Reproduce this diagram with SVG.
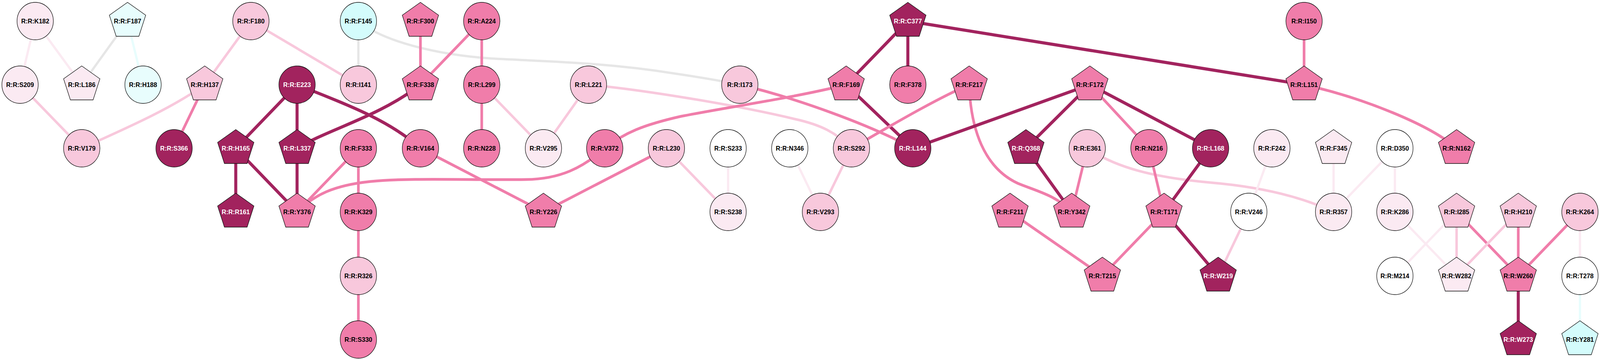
<svg xmlns="http://www.w3.org/2000/svg" xmlns:xlink="http://www.w3.org/1999/xlink" width="4228" height="920" viewBox="0 0 4228 920">
<style>
.e{fill:none;stroke-linecap:butt}
.ed{stroke:#a2235e;stroke-width:8}
.em{stroke:#f07daa;stroke-width:7}
.ep{stroke:#f8c8dc;stroke-width:6.5}
.el{stroke:#fbeaf2;stroke-width:6}
.eg{stroke:#e6e6e6;stroke-width:6}
.ec{stroke:#e8fdfd;stroke-width:6}
.node ellipse,.node use{stroke:#111;stroke-width:1.3}
.d{fill:#a2235e}.m{fill:#f07daa}.p{fill:#f8c8dc}.l{fill:#fbeaf2}.w{fill:#ffffff}.c1{fill:#e8fdfd}.c2{fill:#d4fcfc}
text{font-family:"Liberation Sans",Arial,Helvetica,sans-serif;font-size:16.5px;font-weight:bold;text-anchor:middle;fill:#000}
text.t{fill:#fff}
</style>
<defs>
<polygon id="pent" points="0,-48 48,-15 30,39 -30,39 -48,-15"/>
</defs>
<rect width="4228" height="920" fill="#fff"/>
<g id="diagram" transform="scale(0.96878,1)">
<g id="edges">
<line class="e el" x1="93" y1="54" x2="53" y2="217"/>
<line class="e el" x1="93" y1="54" x2="216" y2="217"/>
<line class="e eg" x1="337" y1="54" x2="216" y2="217"/>
<line class="e ec" x1="337" y1="54" x2="378" y2="217"/>
<line class="e ep" x1="53" y1="217" x2="216" y2="380"/>
<path class="e ep" d="M541,217 C450,280 330,330 216,380"/>
<line class="e em" x1="541" y1="217" x2="460" y2="380"/>
<line class="e ep" x1="663" y1="54" x2="541" y2="217"/>
<line class="e ep" x1="663" y1="54" x2="947" y2="217"/>
<line class="e eg" x1="947" y1="54" x2="947" y2="217"/>
<path class="e eg" d="M947,54 C1010,105 1150,140 1300,150 C1450,158 1600,160 1780,188 C1850,198 1920,210 1955,217"/>
<line class="e ed" x1="785" y1="217" x2="623" y2="380"/>
<line class="e ed" x1="785" y1="217" x2="785" y2="380"/>
<path class="e ed" d="M785,217 C880,255 1020,300 1111,380"/>
<line class="e ed" x1="623" y1="380" x2="623" y2="543"/>
<line class="e ed" x1="623" y1="380" x2="785" y2="543"/>
<line class="e ed" x1="785" y1="380" x2="785" y2="543"/>
<path class="e ed" d="M785,380 C870,330 1000,300 1111,217"/>
<line class="e em" x1="947" y1="380" x2="785" y2="543"/>
<path class="e em" d="M785,543 C830,500 880,475 980,465 C1080,455 1250,462 1390,460 C1480,459 1540,430 1598,380"/>
<line class="e em" x1="947" y1="380" x2="947" y2="543"/>
<line class="e em" x1="947" y1="543" x2="947" y2="707"/>
<line class="e em" x1="947" y1="707" x2="947" y2="870"/>
<line class="e em" x1="1111" y1="54" x2="1111" y2="217"/>
<line class="e em" x1="1273" y1="54" x2="1111" y2="217"/>
<line class="e em" x1="1273" y1="54" x2="1273" y2="217"/>
<line class="e em" x1="1273" y1="217" x2="1273" y2="380"/>
<line class="e ep" x1="1273" y1="217" x2="1436" y2="380"/>
<line class="e em" x1="1111" y1="380" x2="1436" y2="543"/>
<line class="e ep" x1="1555" y1="217" x2="1436" y2="380"/>
<path class="e ep" d="M1555,217 C1700,230 1950,270 2100,305 C2170,320 2210,340 2250,380"/>
<path class="e em" d="M1598,380 C1650,340 1700,320 1800,298 C1950,270 2100,250 2236,217"/>
<line class="e em" x1="1761" y1="380" x2="1436" y2="543"/>
<line class="e ep" x1="1761" y1="380" x2="1924" y2="543"/>
<line class="e el" x1="1924" y1="380" x2="1924" y2="543"/>
<line class="e el" x1="2087" y1="380" x2="2168" y2="543"/>
<line class="e ep" x1="2250" y1="380" x2="2168" y2="543"/>
<path class="e em" d="M1955,217 C2100,250 2300,320 2412,380"/>
<line class="e ed" x1="2236" y1="217" x2="2412" y2="380"/>
<line class="e ed" x1="2399" y1="54" x2="2236" y2="217"/>
<line class="e ed" x1="2399" y1="54" x2="2399" y2="217"/>
<line class="e ed" x1="2399" y1="54" x2="3446" y2="217"/>
<path class="e em" d="M2561,217 C2470,255 2340,330 2250,380"/>
<path class="e em" d="M2561,217 C2565,330 2600,430 2690,470 C2740,490 2790,500 2832,543"/>
<line class="e ed" x1="2880" y1="217" x2="2412" y2="380"/>
<line class="e ed" x1="2880" y1="217" x2="2711" y2="380"/>
<line class="e em" x1="2880" y1="217" x2="3036" y2="380"/>
<line class="e ed" x1="2880" y1="217" x2="3199" y2="380"/>
<line class="e ed" x1="2711" y1="380" x2="2832" y2="543"/>
<line class="e em" x1="2873" y1="380" x2="2832" y2="543"/>
<path class="e ep" d="M2873,380 C2950,430 3050,455 3200,468 C3320,478 3430,500 3524,543"/>
<line class="e em" x1="3036" y1="380" x2="3076" y2="543"/>
<line class="e ed" x1="3199" y1="380" x2="3076" y2="543"/>
<line class="e em" x1="2669" y1="543" x2="2913" y2="707"/>
<line class="e em" x1="3076" y1="543" x2="2913" y2="707"/>
<line class="e ed" x1="3076" y1="543" x2="3219" y2="707"/>
<line class="e ep" x1="3300" y1="543" x2="3219" y2="707"/>
<line class="e el" x1="3361" y1="380" x2="3300" y2="543"/>
<line class="e em" x1="3446" y1="54" x2="3446" y2="217"/>
<path class="e em" d="M3446,217 C3600,250 3780,320 3849,380"/>
<line class="e el" x1="3524" y1="380" x2="3524" y2="543"/>
<line class="e el" x1="3686" y1="380" x2="3524" y2="543"/>
<line class="e el" x1="3686" y1="380" x2="3686" y2="543"/>
<line class="e el" x1="3686" y1="543" x2="3849" y2="707"/>
<line class="e el" x1="3849" y1="543" x2="3686" y2="707"/>
<line class="e ep" x1="3849" y1="543" x2="3849" y2="707"/>
<line class="e em" x1="3849" y1="543" x2="4012" y2="707"/>
<line class="e ep" x1="4012" y1="543" x2="3849" y2="707"/>
<line class="e em" x1="4012" y1="543" x2="4012" y2="707"/>
<line class="e em" x1="4175" y1="543" x2="4012" y2="707"/>
<line class="e ed" x1="4012" y1="707" x2="4012" y2="870"/>
<line class="e el" x1="4175" y1="543" x2="4175" y2="707"/>
<line class="e ec" x1="4175" y1="707" x2="4175" y2="870"/>
</g>
<g id="nodes">
<g id="n-K182" class="node"><ellipse class="l" cx="93" cy="54" rx="48" ry="48"/><text x="93" y="60">R:R:K182</text></g>
<g id="n-F187" class="node"><use href="#pent" xlink:href="#pent" class="c1" x="337" y="54"/><text x="337" y="60">R:R:F187</text></g>
<g id="n-S209" class="node"><ellipse class="l" cx="53" cy="217" rx="48" ry="48"/><text x="53" y="223">R:R:S209</text></g>
<g id="n-L186" class="node"><use href="#pent" xlink:href="#pent" class="l" x="216" y="217"/><text x="216" y="223">R:R:L186</text></g>
<g id="n-H188" class="node"><ellipse class="c1" cx="378" cy="217" rx="48" ry="48"/><text x="378" y="223">R:R:H188</text></g>
<g id="n-H137" class="node"><use href="#pent" xlink:href="#pent" class="p" x="541" y="217"/><text x="541" y="223">R:R:H137</text></g>
<g id="n-V179" class="node"><ellipse class="p" cx="216" cy="380" rx="48" ry="48"/><text x="216" y="386">R:R:V179</text></g>
<g id="n-S366" class="node"><ellipse class="d" cx="460" cy="380" rx="48" ry="48"/><text class="t" x="460" y="386">R:R:S366</text></g>
<g id="n-F180" class="node"><ellipse class="p" cx="663" cy="54" rx="48" ry="48"/><text x="663" y="60">R:R:F180</text></g>
<g id="n-F145" class="node"><ellipse class="c2" cx="947" cy="54" rx="48" ry="48"/><text x="947" y="60">R:R:F145</text></g>
<g id="n-E223" class="node"><ellipse class="d" cx="785" cy="217" rx="48" ry="48"/><text class="t" x="785" y="223">R:R:E223</text></g>
<g id="n-I141" class="node"><ellipse class="p" cx="947" cy="217" rx="48" ry="48"/><text x="947" y="223">R:R:I141</text></g>
<g id="n-H165" class="node"><use href="#pent" xlink:href="#pent" class="d" x="623" y="380"/><text class="t" x="623" y="386">R:R:H165</text></g>
<g id="n-L337" class="node"><use href="#pent" xlink:href="#pent" class="d" x="785" y="380"/><text class="t" x="785" y="386">R:R:L337</text></g>
<g id="n-F333" class="node"><ellipse class="m" cx="947" cy="380" rx="48" ry="48"/><text x="947" y="386">R:R:F333</text></g>
<g id="n-R161" class="node"><use href="#pent" xlink:href="#pent" class="d" x="623" y="543"/><text class="t" x="623" y="549">R:R:R161</text></g>
<g id="n-Y376" class="node"><use href="#pent" xlink:href="#pent" class="m" x="785" y="543"/><text x="785" y="549">R:R:Y376</text></g>
<g id="n-K329" class="node"><ellipse class="m" cx="947" cy="543" rx="48" ry="48"/><text x="947" y="549">R:R:K329</text></g>
<g id="n-R326" class="node"><ellipse class="p" cx="947" cy="707" rx="48" ry="48"/><text x="947" y="713">R:R:R326</text></g>
<g id="n-S330" class="node"><ellipse class="m" cx="947" cy="870" rx="48" ry="48"/><text x="947" y="876">R:R:S330</text></g>
<g id="n-F300" class="node"><use href="#pent" xlink:href="#pent" class="m" x="1111" y="54"/><text x="1111" y="60">R:R:F300</text></g>
<g id="n-A224" class="node"><ellipse class="m" cx="1273" cy="54" rx="48" ry="48"/><text x="1273" y="60">R:R:A224</text></g>
<g id="n-F338" class="node"><use href="#pent" xlink:href="#pent" class="m" x="1111" y="217"/><text x="1111" y="223">R:R:F338</text></g>
<g id="n-L299" class="node"><ellipse class="m" cx="1273" cy="217" rx="48" ry="48"/><text x="1273" y="223">R:R:L299</text></g>
<g id="n-V164" class="node"><ellipse class="m" cx="1111" cy="380" rx="48" ry="48"/><text x="1111" y="386">R:R:V164</text></g>
<g id="n-N228" class="node"><ellipse class="m" cx="1273" cy="380" rx="48" ry="48"/><text x="1273" y="386">R:R:N228</text></g>
<g id="n-V295" class="node"><ellipse class="l" cx="1436" cy="380" rx="48" ry="48"/><text x="1436" y="386">R:R:V295</text></g>
<g id="n-Y226" class="node"><use href="#pent" xlink:href="#pent" class="m" x="1436" y="543"/><text x="1436" y="549">R:R:Y226</text></g>
<g id="n-L221" class="node"><ellipse class="p" cx="1555" cy="217" rx="48" ry="48"/><text x="1555" y="223">R:R:L221</text></g>
<g id="n-V372" class="node"><ellipse class="m" cx="1598" cy="380" rx="48" ry="48"/><text x="1598" y="386">R:R:V372</text></g>
<g id="n-L230" class="node"><ellipse class="p" cx="1761" cy="380" rx="48" ry="48"/><text x="1761" y="386">R:R:L230</text></g>
<g id="n-I173" class="node"><ellipse class="p" cx="1955" cy="217" rx="48" ry="48"/><text x="1955" y="223">R:R:I173</text></g>
<g id="n-S233" class="node"><ellipse class="w" cx="1924" cy="380" rx="48" ry="48"/><text x="1924" y="386">R:R:S233</text></g>
<g id="n-N346" class="node"><ellipse class="w" cx="2087" cy="380" rx="48" ry="48"/><text x="2087" y="386">R:R:N346</text></g>
<g id="n-S238" class="node"><ellipse class="l" cx="1924" cy="543" rx="48" ry="48"/><text x="1924" y="549">R:R:S238</text></g>
<g id="n-V293" class="node"><ellipse class="p" cx="2168" cy="543" rx="48" ry="48"/><text x="2168" y="549">R:R:V293</text></g>
<g id="n-C377" class="node"><use href="#pent" xlink:href="#pent" class="d" x="2399" y="54"/><text class="t" x="2399" y="60">R:R:C377</text></g>
<g id="n-F169" class="node"><use href="#pent" xlink:href="#pent" class="m" x="2236" y="217"/><text x="2236" y="223">R:R:F169</text></g>
<g id="n-F378" class="node"><ellipse class="m" cx="2399" cy="217" rx="48" ry="48"/><text x="2399" y="223">R:R:F378</text></g>
<g id="n-F217" class="node"><use href="#pent" xlink:href="#pent" class="m" x="2561" y="217"/><text x="2561" y="223">R:R:F217</text></g>
<g id="n-S292" class="node"><ellipse class="p" cx="2250" cy="380" rx="48" ry="48"/><text x="2250" y="386">R:R:S292</text></g>
<g id="n-L144" class="node"><ellipse class="d" cx="2412" cy="380" rx="48" ry="48"/><text class="t" x="2412" y="386">R:R:L144</text></g>
<g id="n-F172" class="node"><use href="#pent" xlink:href="#pent" class="m" x="2880" y="217"/><text x="2880" y="223">R:R:F172</text></g>
<g id="n-Q368" class="node"><use href="#pent" xlink:href="#pent" class="d" x="2711" y="380"/><text class="t" x="2711" y="386">R:R:Q368</text></g>
<g id="n-E361" class="node"><ellipse class="p" cx="2873" cy="380" rx="48" ry="48"/><text x="2873" y="386">R:R:E361</text></g>
<g id="n-N216" class="node"><ellipse class="m" cx="3036" cy="380" rx="48" ry="48"/><text x="3036" y="386">R:R:N216</text></g>
<g id="n-F211" class="node"><use href="#pent" xlink:href="#pent" class="m" x="2669" y="543"/><text x="2669" y="549">R:R:F211</text></g>
<g id="n-Y342" class="node"><use href="#pent" xlink:href="#pent" class="m" x="2832" y="543"/><text x="2832" y="549">R:R:Y342</text></g>
<g id="n-T215" class="node"><use href="#pent" xlink:href="#pent" class="m" x="2913" y="707"/><text x="2913" y="713">R:R:T215</text></g>
<g id="n-I150" class="node"><ellipse class="m" cx="3446" cy="54" rx="48" ry="48"/><text x="3446" y="60">R:R:I150</text></g>
<g id="n-L151" class="node"><use href="#pent" xlink:href="#pent" class="m" x="3446" y="217"/><text x="3446" y="223">R:R:L151</text></g>
<g id="n-L168" class="node"><ellipse class="d" cx="3199" cy="380" rx="48" ry="48"/><text class="t" x="3199" y="386">R:R:L168</text></g>
<g id="n-F242" class="node"><ellipse class="l" cx="3361" cy="380" rx="48" ry="48"/><text x="3361" y="386">R:R:F242</text></g>
<g id="n-T171" class="node"><use href="#pent" xlink:href="#pent" class="m" x="3076" y="543"/><text x="3076" y="549">R:R:T171</text></g>
<g id="n-V246" class="node"><ellipse class="w" cx="3300" cy="543" rx="48" ry="48"/><text x="3300" y="549">R:R:V246</text></g>
<g id="n-W219" class="node"><use href="#pent" xlink:href="#pent" class="d" x="3219" y="707"/><text class="t" x="3219" y="713">R:R:W219</text></g>
<g id="n-F345" class="node"><use href="#pent" xlink:href="#pent" class="l" x="3524" y="380"/><text x="3524" y="386">R:R:F345</text></g>
<g id="n-D350" class="node"><ellipse class="w" cx="3686" cy="380" rx="48" ry="48"/><text x="3686" y="386">R:R:D350</text></g>
<g id="n-N162" class="node"><use href="#pent" xlink:href="#pent" class="m" x="3849" y="380"/><text x="3849" y="386">R:R:N162</text></g>
<g id="n-R357" class="node"><ellipse class="l" cx="3524" cy="543" rx="48" ry="48"/><text x="3524" y="549">R:R:R357</text></g>
<g id="n-K286" class="node"><ellipse class="l" cx="3686" cy="543" rx="48" ry="48"/><text x="3686" y="549">R:R:K286</text></g>
<g id="n-I285" class="node"><use href="#pent" xlink:href="#pent" class="p" x="3849" y="543"/><text x="3849" y="549">R:R:I285</text></g>
<g id="n-M214" class="node"><ellipse class="w" cx="3686" cy="707" rx="48" ry="48"/><text x="3686" y="713">R:R:M214</text></g>
<g id="n-W282" class="node"><use href="#pent" xlink:href="#pent" class="l" x="3849" y="707"/><text x="3849" y="713">R:R:W282</text></g>
<g id="n-H210" class="node"><use href="#pent" xlink:href="#pent" class="p" x="4012" y="543"/><text x="4012" y="549">R:R:H210</text></g>
<g id="n-W260" class="node"><use href="#pent" xlink:href="#pent" class="m" x="4012" y="707"/><text x="4012" y="713">R:R:W260</text></g>
<g id="n-W273" class="node"><use href="#pent" xlink:href="#pent" class="d" x="4012" y="870"/><text class="t" x="4012" y="876">R:R:W273</text></g>
<g id="n-K264" class="node"><ellipse class="p" cx="4175" cy="543" rx="48" ry="48"/><text x="4175" y="549">R:R:K264</text></g>
<g id="n-T278" class="node"><ellipse class="w" cx="4175" cy="707" rx="48" ry="48"/><text x="4175" y="713">R:R:T278</text></g>
<g id="n-Y281" class="node"><use href="#pent" xlink:href="#pent" class="c2" x="4175" y="870"/><text x="4175" y="876">R:R:Y281</text></g>
</g>
</g>
</svg>
